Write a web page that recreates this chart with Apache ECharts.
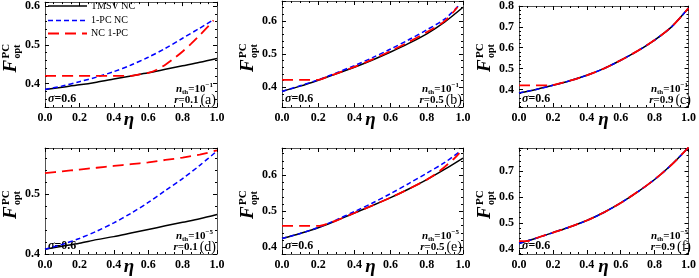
<!DOCTYPE html>
<html><head><meta charset="utf-8">
<script src="https://cdn.jsdelivr.net/npm/echarts@6/dist/echarts.min.js"></script>
<style>html,body{margin:0;padding:0;background:#fff}#c{width:699px;height:278px}</style>
</head><body><div id="c"></div>
<script>
// ---------- data ----------
const eta = [0,0.1,0.2,0.3,0.4,0.5,0.6,0.7,0.8,0.9,1.0];
const etaTo98 = [0,0.1,0.2,0.3,0.4,0.5,0.6,0.7,0.8,0.9,0.98];
const xTicks = [0,0.2,0.4,0.6,0.8,1.0];
const seriesNames = ['TMSV NC','1-PC NC','NC 1-PC'];
const panelLetters = ['(a)','(b)','(c)','(d)','(e)','(f)'];
const rValues = ['0.1','0.5','0.9','0.1','0.5','0.9'];
const nthExp = ['−1','−1','−1','−5','−5','−5'];
const sigmaText = 'σ=0.6';
const yRanges = [[0.34,0.61],[0.34,0.66],[0.316,0.80],[0.40,0.577],[0.381,0.676],[0.379,0.79]];

// panel (a)
const tmsvA = [0.385,0.391,0.397,0.404,0.412,0.420,0.428,0.437,0.446,0.455,0.465];
const onePcA = [0.385,0.394,0.405,0.417,0.431,0.448,0.468,0.491,0.517,0.543,0.565];
const ncEtaA = [0,0.1,0.2,0.3,0.4,0.5,0.55,0.6,0.65,0.7,0.75,0.8,0.85,0.9,0.95,0.98];
const ncA = [0.42,0.42,0.42,0.42,0.42,0.42,0.424,0.428,0.436,0.449,0.465,0.483,0.503,0.525,0.548,0.563];
// panel (b)
const tmsvB = [0.387,0.403,0.421,0.440,0.460,0.482,0.506,0.532,0.561,0.597,0.641];
const onePcB = [0.387,0.404,0.422,0.443,0.465,0.489,0.515,0.543,0.573,0.606,0.648];
const ncEtaB = [0,0.1,0.2,0.25,0.3,0.4,0.5,0.6,0.7,0.8,0.9,0.97];
const ncB = [0.422,0.422,0.422,0.431,0.441,0.461,0.484,0.509,0.536,0.566,0.600,0.642];
// panel (c)
const tmsvC = [0.383,0.400,0.420,0.442,0.468,0.500,0.540,0.585,0.637,0.700,0.790];
const onePcC = [0.383,0.400,0.420,0.442,0.468,0.500,0.540,0.585,0.637,0.700,0.790];
const ncEtaC = [0,0.1,0.18,0.2,0.3,0.4,0.5,0.6,0.7,0.8,0.9,1.0];
const ncC = [0.42,0.42,0.42,0.421,0.442,0.468,0.500,0.540,0.585,0.637,0.700,0.790];
// panel (d)
const tmsvD = [0.408,0.413,0.418,0.424,0.429,0.435,0.441,0.447,0.453,0.459,0.466];
const onePcD = [0.408,0.416,0.426,0.438,0.452,0.468,0.486,0.506,0.526,0.548,0.572];
const ncD = [0.535,0.538,0.541,0.544,0.547,0.550,0.553,0.557,0.561,0.566,0.573];
// panel (e)
const tmsvE = [0.424,0.438,0.454,0.474,0.495,0.516,0.538,0.562,0.588,0.617,0.648];
const onePcE = [0.424,0.438,0.455,0.476,0.499,0.523,0.549,0.577,0.606,0.636,0.665];
const ncEtaE = [0,0.1,0.2,0.27,0.3,0.4,0.5,0.6,0.7,0.8,0.85,0.9,0.95,0.98];
const ncE = [0.459,0.459,0.459,0.469,0.474,0.495,0.516,0.538,0.562,0.588,0.604,0.624,0.646,0.662];
// panel (f)
const tmsvF = [0.420,0.440,0.462,0.484,0.509,0.540,0.577,0.620,0.668,0.725,0.792];
const onePcF = [0.420,0.440,0.462,0.484,0.509,0.540,0.577,0.620,0.668,0.725,0.792];
const ncEtaF = [0,0.05,0.1,0.2,0.3,0.4,0.5,0.6,0.7,0.8,0.9,1.0];
const ncF = [0.429,0.429,0.440,0.462,0.484,0.509,0.540,0.577,0.620,0.668,0.725,0.792];

const panels = [
  {t:[eta,tmsvA], b:[etaTo98,onePcA], r:[ncEtaA,ncA]},
  {t:[eta,tmsvB], b:[etaTo98,onePcB], r:[ncEtaB,ncB]},
  {t:[eta,tmsvC], b:[eta,onePcC], r:[ncEtaC,ncC]},
  {t:[eta,tmsvD], b:[eta,onePcD], r:[eta,ncD]},
  {t:[eta,tmsvE], b:[etaTo98,onePcE], r:[ncEtaE,ncE]},
  {t:[eta,tmsvF], b:[eta,onePcF], r:[ncEtaF,ncF]}
];

// ---------- layout ----------
const rects = [
  {l:45,t:2,w:172,h:105},{l:282,t:1,w:181,h:106},{l:519,t:1,w:173,h:106},
  {l:45,t:148,w:172,h:106},{l:282,t:148,w:181,h:106},{l:519,t:148,w:173,h:106}
];
const SERIF = '"Liberation Serif","DejaVu Serif",serif';
const lineStyles = [
  {color:'#000000', width:1.5, type:'solid'},
  {color:'#0000ff', width:1.5, type:[5,3]},
  {color:'#ff0000', width:1.8, type:[11,6]}
];
const frameColor = '#555';

const grid=[], xAxis=[], yAxis=[], series=[], graphic=[];
const isMult = v => Math.abs(v*10 - Math.round(v*10)) < 1e-6;

rects.forEach((r,i)=>{
  grid.push({left:r.l, top:r.t, width:r.w, height:r.h, containLabel:false});
  const [ymin,ymax] = yRanges[i];
  const xBase = {gridIndex:i, type:'value', min:0, max:1, interval:0.2,
    axisLine:{show:true,onZero:false,lineStyle:{color:frameColor,width:1}},
    axisTick:{show:true,inside:true,length:4,lineStyle:{color:'#000',width:1}},
    minorTick:{show:true,splitNumber:4,length:2,lineStyle:{color:'#000',width:1}},
    splitLine:{show:false}};
  xAxis.push(Object.assign({}, xBase, {position:'bottom',
    axisLabel:{show:true,margin:5,fontFamily:SERIF,fontWeight:'bold',fontSize:12,color:'#000',
      formatter:v=>v.toFixed(1)}}));
  xAxis.push(Object.assign({}, xBase, {position:'top', axisLabel:{show:false}}));
  const yBase = {gridIndex:i, type:'value', min:ymin, max:ymax, minInterval:0.1, maxInterval:0.1, splitNumber:3,
    axisLine:{show:true,onZero:false,lineStyle:{color:frameColor,width:1}},
    axisTick:{show:true,inside:true,length:4,lineStyle:{color:'#000',width:1}},
    minorTick:{show:true,splitNumber:5,length:2,lineStyle:{color:'#000',width:1}},
    splitLine:{show:false}};
  yAxis.push(Object.assign({}, yBase, {position:'left',
    axisLabel:{show:true,margin:5,fontFamily:SERIF,fontWeight:'bold',fontSize:12,color:'#000',
      showMinLabel:isMult(ymin), showMaxLabel:isMult(ymax),
      formatter:v=>v.toFixed(1)}}));
  yAxis.push(Object.assign({}, yBase, {position:'right', axisLabel:{show:false}}));

  const p = panels[i];
  [p.t,p.b,p.r].forEach((d,k)=>{
    series.push({type:'line', name:seriesNames[k], xAxisIndex:2*i, yAxisIndex:2*i,
      data:d[0].map((x,j)=>[x,d[1][j]]), showSymbol:false, symbol:'none', smooth:0.3,
      lineStyle:lineStyles[k], silent:true, animation:false, z:2+k, clip:true});
  });

  // eta axis title
  graphic.push({type:'text', x:r.l + r.w/2 - 2, y:r.t + r.h + 13,
    style:{text:'η', fontFamily:SERIF, fontWeight:'bold', fontStyle:'italic', fontSize:19,
      fill:'#000', align:'center', verticalAlign:'middle'}});
  // y title F_opt^PC (rotated)
  const gx = r.l - 34, gy = r.t + r.h/2 + 1;
  graphic.push({type:'group', x:gx, y:gy, rotation:Math.PI/2, children:[
    {type:'text', x:-17, y:0, style:{text:'F', fontFamily:SERIF, fontWeight:'bold', fontStyle:'italic',
      fontSize:19, fill:'#000', align:'left', verticalAlign:'middle'}},
    {type:'text', x:-3, y:-5, style:{text:'PC', fontFamily:SERIF, fontWeight:'bold',
      fontSize:11, fill:'#000', align:'left', verticalAlign:'middle'}},
    {type:'text', x:-3, y:6, style:{text:'opt', fontFamily:SERIF, fontWeight:'bold',
      fontSize:10, fill:'#000', align:'left', verticalAlign:'middle'}}
  ]});
  // sigma
  graphic.push({type:'text', x:r.l + 3, y:r.t + r.h - 8,
    style:{text:'{i|σ}{n|=0.6}', align:'left', verticalAlign:'middle',
      rich:{i:{fontFamily:SERIF,fontWeight:'bold',fontStyle:'italic',fontSize:12,fill:'#000'},
            n:{fontFamily:SERIF,fontWeight:'bold',fontSize:12,fill:'#000'}}}});
  // n_th line
  graphic.push({type:'text', x:r.l + r.w - 4, y:r.t + r.h - 18,
    style:{text:'{i|n}{sub|th}{n|=10}{sup|'+nthExp[i]+'}', align:'right', verticalAlign:'middle',
      rich:{i:{fontFamily:SERIF,fontWeight:'bold',fontStyle:'italic',fontSize:11,fill:'#000',lineHeight:14},
            sub:{fontFamily:SERIF,fontWeight:'bold',fontSize:7,fill:'#000',lineHeight:8,verticalAlign:'bottom'},
            n:{fontFamily:SERIF,fontWeight:'bold',fontSize:11,fill:'#000',lineHeight:14},
            sup:{fontFamily:SERIF,fontWeight:'bold',fontSize:7,fill:'#000',lineHeight:8,verticalAlign:'top'}}}});
  // r line
  graphic.push({type:'text', x:r.l + r.w - 1, y:r.t + r.h - 7,
    style:{text:'{i|r}{n|='+rValues[i]+'}{p|'+panelLetters[i]+'}', align:'right', verticalAlign:'middle',
      rich:{i:{fontFamily:SERIF,fontWeight:'bold',fontStyle:'italic',fontSize:11,fill:'#000'},
            n:{fontFamily:SERIF,fontWeight:'bold',fontSize:11,fill:'#000'},
            p:{fontFamily:SERIF,fontSize:14,fill:'#000',padding:[0,0,0,2]}}}});
});

// legend in panel (a)
const legY = [6, 20.5, 33.5];
seriesNames.forEach((nm,k)=>{
  const ls = lineStyles[k];
  graphic.push({type:'line', shape:{x1:48,y1:legY[k],x2:87,y2:legY[k]},
    style:{stroke:ls.color, lineWidth:ls.width, lineDash: ls.type==='solid'?null:ls.type}});
  graphic.push({type:'text', x:91, y:legY[k], style:{text:nm, fontFamily:SERIF, fontSize:10,
    fill:'#000', align:'left', verticalAlign:'middle'}});
});

const chart = echarts.init(document.getElementById('c'), null, {renderer:'canvas'});
chart.setOption({animation:false, grid, xAxis, yAxis, series, graphic});
</script></body></html>
